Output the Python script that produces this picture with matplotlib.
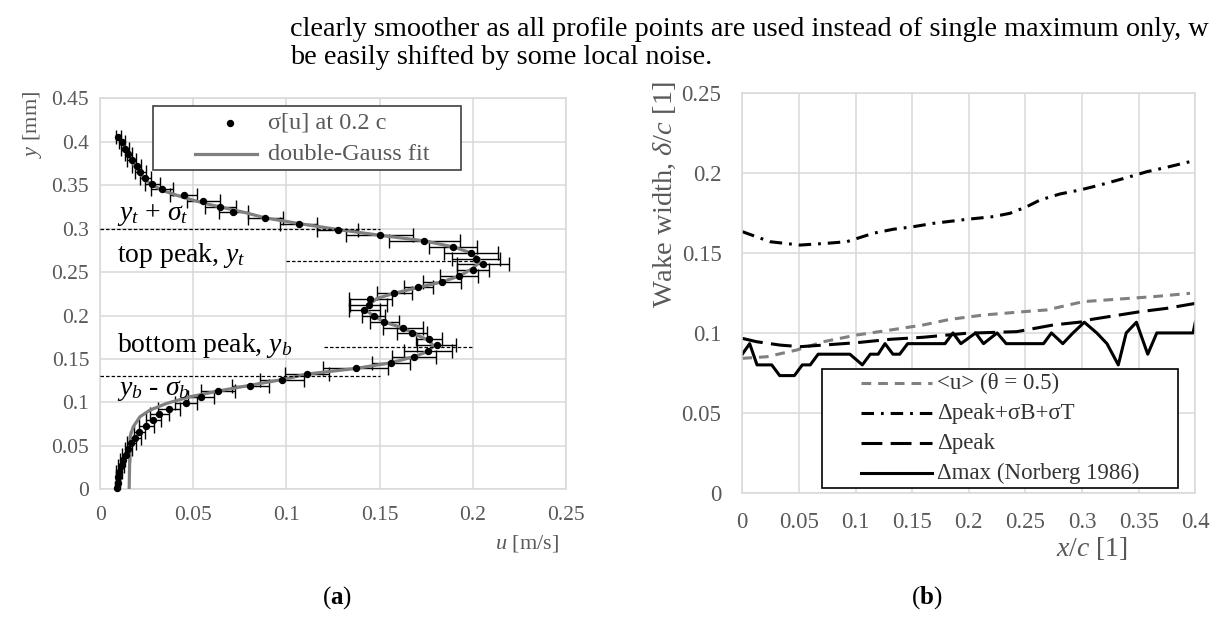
import matplotlib
matplotlib.use('Agg')
import matplotlib.pyplot as plt
from matplotlib.patches import Rectangle
from matplotlib.lines import Line2D

plt.rcParams['font.family'] = ['Liberation Serif', 'DejaVu Serif']
plt.rcParams['mathtext.fontset'] = 'custom'
plt.rcParams['mathtext.rm'] = 'Liberation Serif'
plt.rcParams['mathtext.it'] = 'Liberation Serif:italic'
plt.rcParams['mathtext.bf'] = 'Liberation Serif:bold'
plt.rcParams['lines.scale_dashes'] = False

GRAY_TXT = '#595959'
GRID = '#d9d9d9'

# ---------------- panel (a): sigma[u] profile at 0.2 c ----------------
y_pos = [0.4055, 0.3997, 0.3921, 0.3856, 0.3787, 0.3718, 0.3652, 0.3588, 0.3519, 0.3453,
         0.3388, 0.3319, 0.3254, 0.3189, 0.3123, 0.3059, 0.2990, 0.2924, 0.2859, 0.2790,
         0.2725, 0.2656, 0.2591, 0.2522, 0.2456, 0.2387, 0.2323, 0.2254, 0.2188, 0.2119,
         0.2058, 0.1993, 0.1924, 0.1858, 0.1794, 0.1725, 0.1656, 0.1590, 0.1525, 0.1456,
         0.1391, 0.1324, 0.1260, 0.1191, 0.1127, 0.1061, 0.0996, 0.0929, 0.0864, 0.0795,
         0.0731, 0.0662, 0.0596, 0.0529, 0.0463, 0.0398, 0.0333, 0.0268, 0.0202, 0.0138,
         0.0069, 0.0012]
sig_u = [0.0097, 0.0115, 0.0133, 0.0151, 0.0169, 0.0195, 0.0215, 0.0242, 0.0280, 0.0330,
         0.0447, 0.0554, 0.0645, 0.0715, 0.0887, 0.1065, 0.1276, 0.1500, 0.1740, 0.1895,
         0.1991, 0.2017, 0.2054, 0.2000, 0.1927, 0.1835, 0.1709, 0.1580, 0.1451, 0.1441,
         0.1419, 0.1468, 0.1526, 0.1626, 0.1674, 0.1766, 0.1806, 0.1760, 0.1683, 0.1562,
         0.1371, 0.1110, 0.0975, 0.0805, 0.0632, 0.0541, 0.0461, 0.0369, 0.0317, 0.0284,
         0.0248, 0.0210, 0.0188, 0.0167, 0.0151, 0.0137, 0.0120, 0.0110, 0.0102, 0.0097,
         0.0094, 0.0091]
sig_err = [0.0015, 0.0015, 0.0020, 0.0020, 0.0025, 0.0025, 0.0030, 0.0030, 0.0040, 0.0060,
           0.0070, 0.0090, 0.0085, 0.0080, 0.0095, 0.0100, 0.0110, 0.0180, 0.0190, 0.0130,
           0.0145, 0.0128, 0.0140, 0.0086, 0.0100, 0.0100, 0.0080, 0.0094, 0.0116, 0.0100,
           0.0085, 0.0060, 0.0076, 0.0106, 0.0080, 0.0070, 0.0106, 0.0130, 0.0118, 0.0100,
           0.0175, 0.0120, 0.0117, 0.0100, 0.0090, 0.0070, 0.0060, 0.0060, 0.0050, 0.0040,
           0.0040, 0.0030, 0.0030, 0.0025, 0.0020, 0.0020, 0.0015, 0.0015, 0.0015, 0.0010,
           0.0010, 0.0010]

fit_y = [0.406, 0.3767, 0.3557, 0.3442, 0.3365, 0.3289, 0.3185, 0.3123, 0.3059, 0.2990,
         0.2924, 0.2859, 0.2790, 0.2725, 0.2656, 0.2610, 0.2541, 0.2453, 0.2387, 0.2323,
         0.2257, 0.2196, 0.2120, 0.2058, 0.1985, 0.1924, 0.1858, 0.1774, 0.1717, 0.1650,
         0.1582, 0.1525, 0.1456, 0.1391, 0.1326, 0.1268, 0.1211, 0.1142, 0.1065, 0.0989,
         0.0912, 0.0835, 0.0720, 0.0605, 0.0]
fit_x = [0.0103, 0.0169, 0.0240, 0.0330, 0.0438, 0.0563, 0.0778, 0.0887, 0.1065, 0.1276,
         0.1500, 0.1740, 0.1895, 0.1985, 0.2035, 0.2035, 0.2000, 0.1927, 0.1835, 0.1709,
         0.1580, 0.1486, 0.1440, 0.1428, 0.1477, 0.1526, 0.1626, 0.1701, 0.1763, 0.1790,
         0.1755, 0.1683, 0.1562, 0.1373, 0.1110, 0.0990, 0.0841, 0.0661, 0.0482, 0.0357,
         0.0267, 0.0213, 0.0177, 0.0160, 0.0155]

ref_y = [0.300, 0.2625, 0.1633, 0.130]
ref_x0 = [0.0, 0.10, 0.12, 0.0]
ref_x1 = [0.15, 0.20, 0.20, 0.15]
ref_labels = [r'$y_t$ + $\sigma_t$', r'top peak, $y_t$', r'bottom peak, $y_b$', r'$y_b$ - $\sigma_b$']
ref_label_y = [0.3154, 0.2694, 0.1660, 0.1142]

a_xticks = [0, 0.05, 0.10, 0.15, 0.20, 0.25]
a_xticklabels = ['0', '0.05', '0.1', '0.15', '0.2', '0.25']
a_yticks = [0, 0.05, 0.10, 0.15, 0.20, 0.25, 0.30, 0.35, 0.40, 0.45]
a_yticklabels = ['0', '0.05', '0.1', '0.15', '0.2', '0.25', '0.3', '0.35', '0.4', '0.45']
a_legend = ['σ[u] at 0.2 c', 'double-Gauss fit']

# ---------------- panel (b): wake width ----------------
u_x = [0.0, 0.0216, 0.048, 0.0715, 0.101, 0.1304, 0.1598, 0.1834, 0.2128, 0.2481,
       0.2688, 0.3011, 0.3306, 0.3629, 0.3953]
u_y = [0.0841, 0.0851, 0.0893, 0.0945, 0.0987, 0.1018, 0.1050, 0.1085, 0.1112, 0.1133,
       0.1144, 0.1196, 0.1211, 0.1227, 0.1248]

pk_sig_x = [0.0, 0.0245, 0.051, 0.0745, 0.0922, 0.1157, 0.1333, 0.151, 0.1687, 0.1981,
            0.2216, 0.2364, 0.2511, 0.2629, 0.2806, 0.2983, 0.3159, 0.3394, 0.3571, 0.3748,
            0.3953]
pk_sig_y = [0.1634, 0.1571, 0.1550, 0.1561, 0.1571, 0.1624, 0.1649, 0.1665, 0.1686, 0.1711,
            0.1728, 0.1749, 0.1790, 0.1832, 0.1870, 0.1895, 0.1926, 0.1972, 0.2009, 0.2037,
            0.2072]

pk_x = [0.0, 0.0127, 0.0333, 0.051, 0.0715, 0.101, 0.1304, 0.1598, 0.1981, 0.2423,
        0.2746, 0.3011, 0.3085, 0.3512, 0.3748, 0.4]
pk_y = [0.0966, 0.0945, 0.0924, 0.0914, 0.0924, 0.0939, 0.0960, 0.0973, 0.0998, 0.1008,
        0.1050, 0.1070, 0.1085, 0.1133, 0.1154, 0.1185]

mx_x = [0.0, 0.0065, 0.013, 0.026, 0.033, 0.046, 0.053, 0.060, 0.067, 0.095,
        0.106, 0.113, 0.120, 0.126, 0.133, 0.139, 0.146, 0.179, 0.186, 0.193,
        0.206, 0.213, 0.225, 0.233, 0.266, 0.273, 0.283, 0.292, 0.302, 0.313,
        0.322, 0.332, 0.339, 0.348, 0.358, 0.366, 0.398, 0.400]
mx_y = [0.0867, 0.0933, 0.0800, 0.0800, 0.0733, 0.0733, 0.0800, 0.0800, 0.0867, 0.0867,
        0.0800, 0.0867, 0.0867, 0.0933, 0.0867, 0.0867, 0.0933, 0.0933, 0.1000, 0.0933,
        0.1000, 0.0933, 0.1000, 0.0933, 0.0933, 0.1000, 0.0933, 0.1000, 0.1067, 0.1000,
        0.0933, 0.0800, 0.1000, 0.1067, 0.0867, 0.1000, 0.1000, 0.1067]

b_labels = ['<u> (θ = 0.5)', 'Δpeak+σB+σT', 'Δpeak', 'Δmax (Norberg 1986)']
b_xticks = [0, 0.05, 0.10, 0.15, 0.20, 0.25, 0.30, 0.35, 0.40]
b_xticklabels = ['0', '0.05', '0.1', '0.15', '0.2', '0.25', '0.3', '0.35', '0.4']
b_yticks = [0, 0.05, 0.10, 0.15, 0.20, 0.25]
b_yticklabels = ['0', '0.05', '0.1', '0.15', '0.2', '0.25']

# ---------------- figure ----------------
W, H = 1216, 617
fig = plt.figure(figsize=(W / 100, H / 100), dpi=100)


def frame(x0, y0, x1, y1):
    return [x0 / W, 1 - y1 / H, (x1 - x0) / W, (y1 - y0) / H]


ax1 = fig.add_axes(frame(100.3, 98.3, 565.7, 489.3))
ax2 = fig.add_axes(frame(742.3, 93.3, 1195.3, 492.7))

for ax in (ax1, ax2):
    ax.grid(True, color=GRID, lw=1.1)
    ax.set_axisbelow(True)
    for sp in ax.spines.values():
        sp.set_color(GRID)
        sp.set_linewidth(1.1)
    ax.tick_params(length=0, labelcolor=GRAY_TXT)

# panel (a)
ax1.set_xlim(0, 0.25)
ax1.set_ylim(0, 0.45)
ax1.set_xticks(a_xticks, a_xticklabels)
ax1.set_yticks(a_yticks, a_yticklabels)
ax1.tick_params(axis='both', labelsize=15.5)
ax1.tick_params(axis='y', pad=8)
ax1.tick_params(axis='x', pad=12)

ax1.errorbar(sig_u, y_pos, xerr=sig_err, fmt='none', ecolor='black',
             elinewidth=1.0, capsize=5, capthick=1.0, zorder=2)
ax1.plot(fit_x, fit_y, color='#808080', lw=2.3, zorder=3, solid_joinstyle='round')
ax1.plot(sig_u, y_pos, 'o', color='black', ms=4.3, zorder=4, clip_on=False)

ax1.hlines(ref_y, ref_x0, ref_x1, colors='black', linestyles=(0, (2.5, 1.5)), lw=0.9, zorder=3)
for lab, ly in zip(ref_labels, ref_label_y):
    ax1.text(0.0088, ly, lab, fontsize=20, va='center', ha='left', color='black', zorder=5)

# legend (a), drawn as a framed box
ax1.add_patch(Rectangle((0.114, 0.816), 0.661, 0.165, transform=ax1.transAxes,
                        facecolor='white', edgecolor='#404040', lw=1.2, zorder=6))
ax1.add_line(Line2D([0.2787], [0.9376], transform=ax1.transAxes, marker='o', color='black',
                    ms=4.3, ls='none', zorder=7))
ax1.add_line(Line2D([0.2035, 0.3361], [0.8575, 0.8575], transform=ax1.transAxes,
                    color='#808080', lw=2.3, zorder=7))
for lab, ly in zip(a_legend, [0.9376, 0.8575]):
    ax1.text(0.3603, ly, lab, transform=ax1.transAxes, fontsize=17.5, color=GRAY_TXT,
             va='center', ha='left', zorder=7)

fig.text(32 / W, 1 - 124 / H, r'$y$ [mm]', rotation=90, ha='center', va='center',
         fontsize=16, color=GRAY_TXT)
fig.text(527 / W, 1 - 544 / H, r'$u$ [m/s]', ha='center', va='center',
         fontsize=16, color=GRAY_TXT)

# panel (b)
ax2.set_xlim(0, 0.4)
ax2.set_ylim(0, 0.25)
ax2.set_xticks(b_xticks, b_xticklabels)
ax2.set_yticks(b_yticks, b_yticklabels)
ax2.tick_params(axis='both', labelsize=16.5)
ax2.tick_params(axis='y', pad=15)
ax2.tick_params(axis='x', pad=14)

l1, = ax2.plot(u_x, u_y, color='#808080', lw=2.2, dashes=(7, 5))
l2, = ax2.plot(pk_sig_x, pk_sig_y, color='black', lw=2.2, dashes=(9, 5, 2, 5))
l3, = ax2.plot(pk_x, pk_y, color='black', lw=2.2, dashes=(15, 6))
l4, = ax2.plot(mx_x, mx_y, color='black', lw=2.2)

ax2.add_patch(Rectangle((0.1766, 0.011), 0.7859, 0.2987, transform=ax2.transAxes,
                        facecolor='white', edgecolor='black', lw=1.2, zorder=6))
rows = [0.2739, 0.1988, 0.1237, 0.0486]
handle_dashes = [(7, 5), (9, 5, 2, 5), (15, 6), None]
for ln, lab, ry, dsh in zip((l1, l2, l3, l4), b_labels, rows, handle_dashes):
    hl = Line2D([0.262, 0.4181], [ry, ry], transform=ax2.transAxes,
                color=ln.get_color(), lw=2.2, zorder=7)
    if dsh is not None:
        hl.set_dashes(dsh)
    ax2.add_line(hl)
    ax2.text(0.429, ry, lab, transform=ax2.transAxes, fontsize=16.5, color='#333333',
             va='center', ha='left', zorder=7)

fig.text(665 / W, 1 - 195 / H, r'Wake width, $\delta/c$ [1]', rotation=90, ha='center',
         va='center', fontsize=20.5, color=GRAY_TXT)
fig.text(1091.7 / W, 1 - 548 / H, r'$x/c$ [1]', ha='center', va='center',
         fontsize=20, color=GRAY_TXT)

# surrounding page text (the first line runs off the right edge in the source page)
fig.text(290 / W, 1 - 36 / H,
         'clearly smoother as all profile points are used instead of single maximum only, w',
         fontsize=20.3, ha='left', va='baseline', color='black')
fig.text(290 / W, 1 - 64 / H, 'be easily shifted by some local noise.',
         fontsize=20.3, ha='left', va='baseline', color='black')
fig.text(337 / W, 1 - 598 / H, r'($\mathbf{a}$)', fontsize=18, ha='center', va='center')
fig.text(927 / W, 1 - 598 / H, r'($\mathbf{b}$)', fontsize=18, ha='center', va='center')

fig.savefig('out.png', dpi=100)
